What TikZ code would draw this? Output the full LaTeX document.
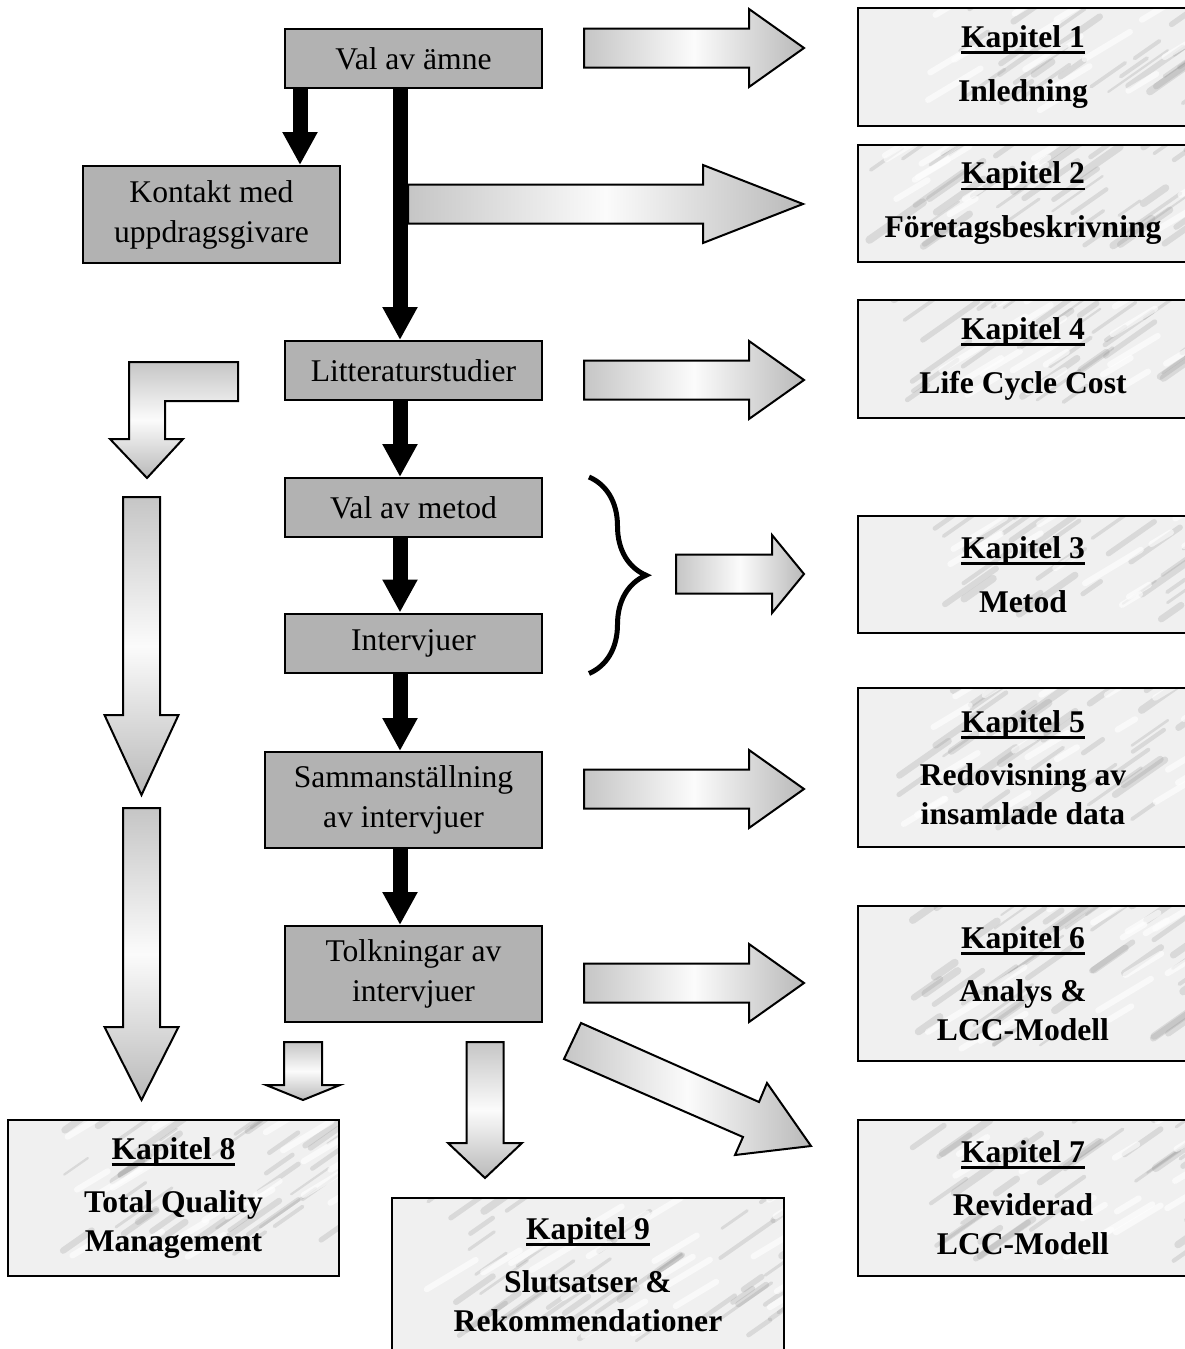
\documentclass[tikz,border=0pt]{standalone}
\usepackage{fontspec}
\setmainfont{Liberation Serif}
\usetikzlibrary{arrows.meta,decorations.pathreplacing}

% underlined chapter heading
\newcommand{\rubrik}[1]{\sbox0{#1}\rlap{\rule[-3.2pt]{\wd0}{1.4pt}}\usebox0}
% hollow arrows: tail x, head x, tip x, centre y
\newcommand{\harrow}[4]{\draw[hollow] (#1,#4-19.5) -- (#2,#4-19.5) -- (#2,#4-39) -- (#3,#4) -- (#2,#4+39) -- (#2,#4+19.5) -- (#1,#4+19.5) -- cycle;}
% x, shaft half, head half, top y, head y, tip y
\newcommand{\varrow}[6]{\draw[hollowv] (#1-#2,#4) -- (#1+#2,#4) -- (#1+#2,#5) -- (#1+#3,#5) -- (#1,#6) -- (#1-#3,#5) -- (#1-#2,#5) -- cycle;}

\tikzset{
  stage/.style={draw, line width=1pt, fill=gray!60, minimum width=128.5pt,
    minimum height=29.5pt, align=center, font=\fontsize{15.8}{20}\selectfont},
  kap/.style={draw, line width=1pt, fill=gray!12, minimum width=165pt, align=center,
    font=\fontsize{15.8}{19.5}\selectfont\bfseries,
    path picture={
      \begin{scope}[shift={(path picture bounding box.south west)}]
        \foreach \i in {1,...,70}{
          \pgfmathsetmacro\ax{215*rnd-15}
          \pgfmathsetmacro\ay{90*rnd-5}
          \pgfmathsetmacro\al{8+22*rnd}
          \pgfmathsetmacro\aw{1+3*rnd}
          \draw[gray, opacity=.2, line width=\aw*1pt, line cap=round]
            (\ax pt,\ay pt) -- ++(\al pt,.7*\al pt);
        }
        \foreach \i in {1,...,30}{
          \pgfmathsetmacro\ax{215*rnd-15}
          \pgfmathsetmacro\ay{90*rnd-5}
          \pgfmathsetmacro\al{8+20*rnd}
          \draw[white, opacity=.6, line width=3pt, line cap=round]
            (\ax pt,\ay pt) -- ++(\al pt,.6*\al pt);
        }
      \end{scope}}},
  flow/.style={line width=7.5pt, -{Triangle[width=16.5pt,length=16.5pt]}},
  hollow/.style={draw, line width=1pt, left color=gray!45, right color=gray!55, middle color=gray!3},
  hollowv/.style={draw, line width=1pt, top color=gray!45, bottom color=gray!55, middle color=gray!3}
}

\begin{document}
\begin{tikzpicture}[x=0.5pt, y=-0.5pt]
\useasboundingbox (0,0) rectangle (1184,1349);
\pgfmathsetseed{11}

% work steps
\node[stage] (amne) at (413.5,58.5) {Val av ämne};
\node[stage, minimum height=48.5pt] (kontakt) at (211.5,214.5) {Kontakt med\\uppdragsgivare};
\node[stage] (litt) at (413.5,370.5) {Litteraturstudier};
\node[stage] (metod) at (413.5,507.5) {Val av metod};
\node[stage] (interv) at (413.5,643) {Intervjuer};
\node[stage, minimum width=138.5pt, minimum height=48pt] (samman) at (403.5,800) {Sammanställning\\av intervjuer};
\node[stage, minimum height=48pt] (tolk) at (413.5,974) {Tolkningar av\\intervjuer};

% chapters
\node[kap, minimum height=59pt] (k1) at (1023,67) {\rubrik{Kapitel 1}\\[7.5pt] Inledning};
\node[kap, minimum height=58.5pt] (k2) at (1023,203.5) {\rubrik{Kapitel 2}\\[7.5pt] Företagsbeskrivning};
\node[kap, minimum height=59pt] (k4) at (1023,359) {\rubrik{Kapitel 4}\\[7.5pt] Life Cycle Cost};
\node[kap, minimum height=58.5pt] (k3) at (1023,574.5) {\rubrik{Kapitel 3}\\[7.5pt] Metod};
\node[kap, minimum height=79.5pt] (k5) at (1023,767.5) {\rubrik{Kapitel 5}\\[7pt] Redovisning av\\insamlade data};
\node[kap, minimum height=77.5pt] (k6) at (1023,983.5) {\rubrik{Kapitel 6}\\[7pt] Analys \&\\LCC-Modell};
\node[kap, minimum height=78pt] (k7) at (1023,1198) {\rubrik{Kapitel 7}\\[7pt] Reviderad\\LCC-Modell};
\node[kap, minimum width=165.5pt, minimum height=78pt] (k8) at (173.5,1198) {\rubrik{Kapitel 8}\\[7pt] Total Quality\\Management};
\node[kap, minimum width=196pt, minimum height=77pt] (k9) at (588,1275) {\rubrik{Kapitel 9}\\[7pt] Slutsatser \&\\Rekommendationer};

% black flow
\coordinate (spine) at (400,0);
\coordinate (side) at (300,0);
\draw[flow] (amne.south -| side) -- (kontakt.north -| side);
\draw[flow] (amne.south -| spine) -- (litt.north -| spine);
\draw[flow] (litt.south -| spine) -- (metod.north -| spine);
\draw[flow] (metod.south -| spine) -- (interv.north -| spine);
\draw[flow] (interv.south -| spine) -- (samman.north -| spine);
\draw[flow] (samman.south -| spine) -- (tolk.north -| spine);

% brace over metod + intervjuer
\draw[line width=2.5pt, decorate, decoration={brace, amplitude=28.5pt}]
  ([xshift=23pt]metod.north east) -- ([xshift=23pt]interv.south east);

% hollow arrows to the chapters
\harrow{584}{749}{804}{48}
\harrow{408}{703}{803}{204}
\harrow{584}{749}{804}{380}
\harrow{676}{772}{804}{574}
\harrow{584}{749}{804}{789}
\harrow{584}{749}{804}{983}
\draw[hollow] (581,1023) -- (759,1102) -- (767,1083) -- (811,1146) -- (735,1155) -- (743,1137) -- (564,1059) -- cycle;

% left column
\draw[hollowv] (129,362) -- (238,362) -- (238,401) -- (165,401) -- (165,439) -- (183,439) -- (147,478) -- (110,439) -- (129,439) -- cycle;
\varrow{141.5}{18.5}{37}{497}{715}{795}
\varrow{141.5}{18.5}{37}{808}{1027}{1100}
\varrow{303}{19}{37}{1042}{1085}{1100}
\varrow{485}{18.5}{37}{1042}{1143}{1178}
\end{tikzpicture}
\end{document}
